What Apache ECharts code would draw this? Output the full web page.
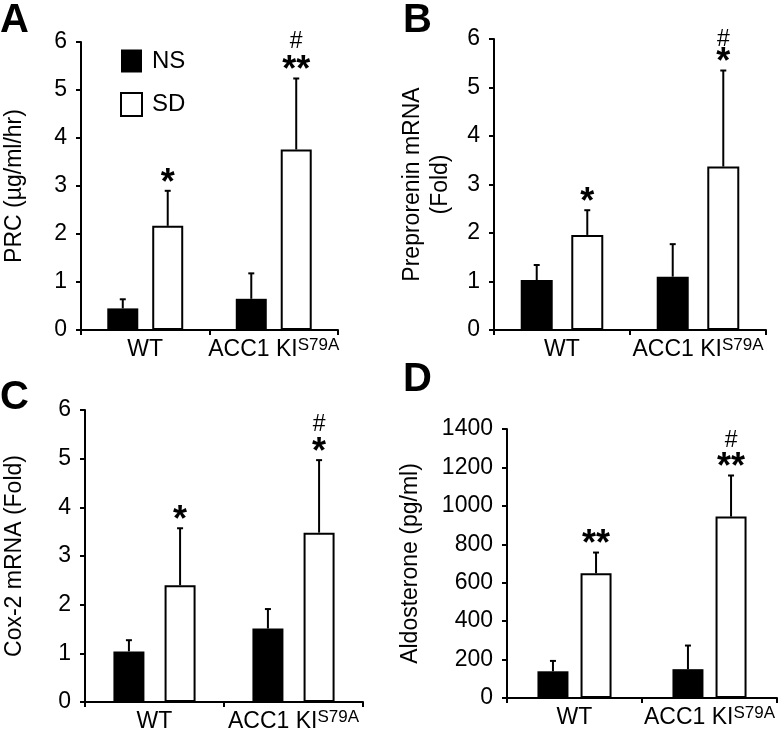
<!DOCTYPE html>
<html><head><meta charset="utf-8">
<script src="https://cdn.jsdelivr.net/npm/echarts@6/dist/echarts.min.js"></script>
<style>html,body{margin:0;padding:0;background:#fff}#c{width:780px;height:745px}</style>
</head><body><div id="c"></div>
<script>
// ---- data ----
const categories = ['WT', 'ACC1 KI'];
const catSup = ['', 'S79A'];
const seriesNames = ['NS', 'SD'];

// Panel A: PRC (µg/ml/hr)
const nsA = [0.45, 0.65];
const nsSemA = [0.19, 0.53];
const sdA = [2.17, 3.76];
const sdSemA = [0.73, 1.48];
const starsA = ['*', '**'];
const hashA = ['', '#'];

// Panel B: Preprorenin mRNA (Fold)
const nsB = [1.03, 1.10];
const nsSemB = [0.31, 0.67];
const sdB = [1.96, 3.37];
const sdSemB = [0.51, 1.98];
const starsB = ['*', '*'];
const hashB = ['', '#'];

// Panel C: Cox-2 mRNA (Fold)
const nsC = [1.04, 1.51];
const nsSemC = [0.23, 0.40];
const sdC = [2.40, 3.48];
const sdSemC = [1.17, 1.49];
const starsC = ['*', '*'];
const hashC = ['', '#'];

// Panel D: Aldosterone (pg/ml)
const nsD = [139, 150];
const nsSemD = [54, 123];
const sdD = [649, 944];
const sdSemD = [108, 214];
const starsD = ['**', '**'];
const hashD = ['', '#'];

// axis ticks
const yMaxFold = 6, yStepFold = 1;
const yMaxAldo = 1400, yStepAldo = 200;

// ---- build ----
const FONT = '"Liberation Sans", Arial, sans-serif';
const panels = [
  {letter:'A', ns:nsA, nsSem:nsSemA, sd:sdA, sdSem:sdSemA, stars:starsA, hash:hashA, max:yMaxFold, step:yStepFold,
   name:'PRC (µg/ml/hr)', nameGap:52, grid:{left:76, top:42, width:262, height:288}, bw:31, gap:0.45, lx:0, ly:1, hashGap:37},
  {letter:'B', ns:nsB, nsSem:nsSemB, sd:sdB, sdSem:sdSemB, stars:starsB, hash:hashB, max:yMaxFold, step:yStepFold,
   name:'Preprorenin mRNA\n(Fold)', nameGap:39, grid:{left:494, top:39, width:272, height:291}, bw:32, gap:0.58, lx:403, ly:1, hashGap:31},
  {letter:'C', ns:nsC, nsSem:nsSemC, sd:sdC, sdSem:sdSemC, stars:starsC, hash:hashC, max:yMaxFold, step:yStepFold,
   name:'Cox-2 mRNA (Fold)', nameGap:56, grid:{left:81, top:410, width:282, height:292}, bw:31, gap:0.65, lx:0, ly:378, hashGap:35},
  {letter:'D', ns:nsD, nsSem:nsSemD, sd:sdD, sdSem:sdSemD, stars:starsD, hash:hashD, max:yMaxAldo, step:yStepAldo,
   name:'Aldosterone (pg/ml)', nameGap:82, grid:{left:507, top:429, width:270, height:269}, bw:31, gap:0.39, lx:403, ly:360, hashGap:35}
];

function errRender(off, stars, hashes, hashGap) {
  return function (params, api) {
    const ci = api.value(0), mean = api.value(1), top = api.value(2);
    const b = api.coord([ci, mean]);
    const t = api.coord([ci, top]);
    const x = b[0] + off;
    const ch = [
      {type:'line', shape:{x1:x, y1:b[1], x2:x, y2:t[1]}, style:{stroke:'#000', lineWidth:2}},
      {type:'line', shape:{x1:x - 3, y1:t[1], x2:x + 3, y2:t[1]}, style:{stroke:'#000', lineWidth:2}}
    ];
    if (stars && stars[ci]) ch.push({type:'text', style:{x:x, y:t[1] - 7, text:stars[ci], font:'bold 36px ' + FONT, fill:'#000', align:'center', verticalAlign:'middle'}});
    if (hashes && hashes[ci]) ch.push({type:'text', style:{x:x, y:t[1] - hashGap, text:hashes[ci], font:'23px ' + FONT, fill:'#000', align:'center', verticalAlign:'middle'}});
    return {type:'group', children:ch};
  };
}

const grids = [], xAxes = [], yAxes = [], series = [], graphics = [];
panels.forEach((p, i) => {
  grids.push(Object.assign({containLabel:false}, p.grid));
  xAxes.push({
    type:'category', gridIndex:i, data:categories,
    axisLine:{lineStyle:{color:'#000', width:2}},
    axisTick:{show:true, length:5, lineStyle:{color:'#000', width:2}},
    axisLabel:{
      interval:0, hideOverlap:false, margin:7, color:'#000',
      formatter:(v, idx) => '{n|' + v + '}' + (catSup[idx] ? '{s|' + catSup[idx] + '}' : ''),
      rich:{
        n:{fontFamily:FONT, fontSize:23, color:'#000', lineHeight:26},
        s:{fontFamily:FONT, fontSize:17, color:'#000', lineHeight:13, verticalAlign:'top'}
      }
    },
    splitLine:{show:false}
  });
  yAxes.push({
    type:'value', gridIndex:i, min:0, max:p.max, interval:p.step,
    name:p.name, nameLocation:'middle', nameGap:p.nameGap, nameRotate:90,
    nameTextStyle:{fontFamily:FONT, fontSize:23, color:'#000', lineHeight:28},
    axisLine:{show:true, lineStyle:{color:'#000', width:2}},
    axisTick:{show:true, length:5, lineStyle:{color:'#000', width:2}},
    axisLabel:{margin:14, fontFamily:FONT, fontSize:23, color:'#000', formatter:(v) => String(v)},
    splitLine:{show:false}
  });
  const off = p.bw * (1 + p.gap) / 2;
  series.push({
    type:'bar', name:seriesNames[0], xAxisIndex:i, yAxisIndex:i, data:p.ns,
    barWidth:p.bw, barGap:(p.gap * 100) + '%', itemStyle:{color:'#000'}, z:2
  });
  series.push({
    type:'bar', name:seriesNames[1], xAxisIndex:i, yAxisIndex:i, data:p.sd,
    barWidth:p.bw, barGap:(p.gap * 100) + '%', itemStyle:{color:'#fff', borderColor:'#000', borderWidth:2}, z:2
  });
  series.push({
    type:'custom', xAxisIndex:i, yAxisIndex:i, z:3, silent:true,
    renderItem:errRender(-off, null, null, 0),
    encode:{x:0, y:[1, 2]},
    data:p.ns.map((v, k) => [k, v, v + p.nsSem[k]])
  });
  series.push({
    type:'custom', xAxisIndex:i, yAxisIndex:i, z:3, silent:true,
    renderItem:errRender(off, p.stars, p.hash, p.hashGap),
    encode:{x:0, y:[1, 2]},
    data:p.sd.map((v, k) => [k, v, v + p.sdSem[k]])
  });
  graphics.push({type:'text', left:p.lx, top:p.ly, style:{text:p.letter, font:'bold 40px ' + FONT, fill:'#000'}});
});

const chart = echarts.init(document.getElementById('c'), null, {renderer:'canvas'});
chart.setOption({
  backgroundColor:'#fff',
  animation:false,
  textStyle:{fontFamily:FONT},
  grid:grids, xAxis:xAxes, yAxis:yAxes, series:series,
  legend:{
    show:true, orient:'vertical', left:120, top:49, padding:0, selectedMode:false,
    itemWidth:21, itemHeight:23, itemGap:19, icon:'rect',
    textStyle:{fontFamily:FONT, fontSize:24, color:'#000', padding:[0,0,0,5]},
    data:[
      {name:'NS', itemStyle:{color:'#000', borderWidth:0}},
      {name:'SD', itemStyle:{color:'#fff', borderColor:'#000', borderWidth:2}}
    ]
  },
  graphic:graphics
});
</script>
</body></html>
